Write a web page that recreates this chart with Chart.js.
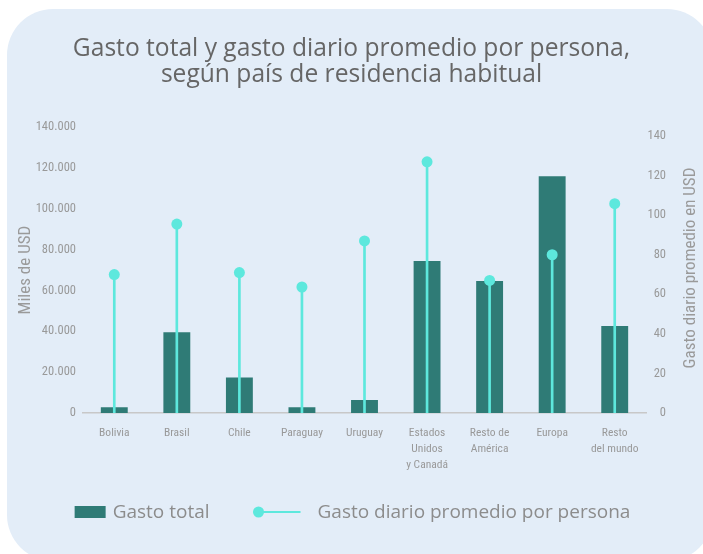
<!DOCTYPE html>
<html><head><meta charset="utf-8">
<script src="https://cdn.jsdelivr.net/npm/chart.js@4.4.0/dist/chart.umd.min.js"></script>
<style>
html,body{margin:0;padding:0;background:#fff;width:703px;height:554px;overflow:hidden}
#card{position:absolute;left:7px;top:9px;width:706px;height:552px;border-radius:46px;background:#e3edf8}
#wrap{position:absolute;left:0;top:0;width:703px;height:554px}
</style></head><body>
<div id="card"></div>
<div id="wrap"><canvas id="c" width="703" height="554"></canvas></div>
<script>
const categories = ["Bolivia", "Brasil", "Chile", "Paraguay", "Uruguay", ["Estados", "Unidos", "y Canadá"], ["Resto de", "América"], "Europa", ["Resto", "del mundo"]];
const gastoTotal = [2800, 39500, 17400, 2800, 6400, 74400, 64600, 116000, 42600];
const gastoDiario = [70, 95.5, 71, 63.7, 87, 127, 67, 80, 105.8];
const leftTicks = [0, 20000, 40000, 60000, 80000, 100000, 120000, 140000];
const rightTicks = [0, 20, 40, 60, 80, 100, 120, 140];
const titleLines = ["Gasto total y gasto diario promedio por persona,", "según país de residencia habitual"];
const leftTitle = "Miles de USD";
const rightTitle = "Gasto diario promedio en USD";
const seriesBar = "Gasto total";
const seriesDot = "Gasto diario promedio por persona";

const BAR = '#2f7b76', DOT = '#5de8dd';
const NARROW = "'Roboto Condensed','Roboto',sans-serif";
const ROUND = "'Open Sans','Noto Sans',sans-serif";
const fmt = v => String(v).replace(/\B(?=(\d{3})+(?!\d))/g, '.');

const extras = {
  id: 'extras',
  afterDraw(chart) {
    const ctx = chart.ctx;
    const s2 = chart.scales.y2, s1 = chart.scales.y1;
    ctx.save();
    ctx.fillStyle = '#9a9a9a';
    ctx.font = '17px ' + NARROW;
    ctx.textAlign = 'center'; ctx.textBaseline = 'middle';
    ctx.translate((s2.left + s2.right) / 2 + 6, (s1.top + s1.bottom) / 2 - 2);
    ctx.rotate(-Math.PI / 2);
    ctx.fillText(rightTitle, 0, 0);
    ctx.restore();
    // legend
    ctx.save();
    ctx.font = '19px ' + ROUND;
    ctx.textBaseline = 'middle'; ctx.textAlign = 'left';
    const w1 = ctx.measureText(seriesBar).width, w2 = ctx.measureText(seriesDot).width;
    const total = 31 + 7 + w1 + 44 + 47 + 17 + w2;
    let x = chart.width / 2 + 1 - total / 2;
    const y = 512;
    ctx.fillStyle = BAR; ctx.fillRect(x, y - 6, 31, 12);
    x += 38;
    ctx.fillStyle = '#8c8c8c'; ctx.fillText(seriesBar, x, y + 1);
    x += w1 + 44;
    ctx.strokeStyle = DOT; ctx.lineWidth = 2;
    ctx.beginPath(); ctx.moveTo(x, y); ctx.lineTo(x + 47, y); ctx.stroke();
    ctx.fillStyle = DOT; ctx.beginPath(); ctx.arc(x + 5, y, 5.5, 0, Math.PI * 2); ctx.fill();
    x += 64;
    ctx.fillStyle = '#8c8c8c'; ctx.fillText(seriesDot, x, y + 1);
    ctx.restore();
  }
};

new Chart(document.getElementById('c'), {
  type: 'bar',
  data: {
    labels: categories,
    datasets: [
      { type: 'bar', label: seriesBar, data: gastoTotal, backgroundColor: BAR, yAxisID: 'y', grouped: false, barPercentage: 0.43, categoryPercentage: 1, order: 3 },
      { type: 'bar', label: 'stem', data: gastoDiario, backgroundColor: DOT, yAxisID: 'y1', grouped: false, barThickness: 2, order: 2 },
      { type: 'line', label: seriesDot, data: gastoDiario, showLine: false, pointRadius: 5.5, pointHoverRadius: 5.5, pointBackgroundColor: DOT, pointBorderWidth: 0, borderColor: DOT, yAxisID: 'y1', order: 1 }
    ]
  },
  options: {
    responsive: false,
    animation: false,
    devicePixelRatio: 1,
    layout: { padding: { left: 0, right: 0, top: 0, bottom: 81 } },
    plugins: {
      legend: { display: false },
      tooltip: { enabled: false },
      title: { display: true, text: titleLines, color: '#666', font: { family: ROUND, size: 24.6, weight: 'normal', lineHeight: 1.06 }, padding: { top: 36, bottom: 39 } }
    },
    scales: {
      x: {
        grid: { display: false, drawTicks: false },
        border: { display: true, color: '#c8c8c8', width: 1.5 },
        ticks: { color: '#999', font: { family: NARROW, size: 11.5, lineHeight: 1.4 }, padding: 12, maxRotation: 0, autoSkip: false },
        afterFit: s => { s.height = 60; }
      },
      y: {
        position: 'left', min: 0, max: 140000,
        afterBuildTicks: s => { s.ticks = leftTicks.map(v => ({ value: v })); },
        grid: { display: false, drawTicks: false }, border: { display: false },
        ticks: { color: '#999', font: { family: NARROW, size: 12.5 }, padding: 7, callback: v => fmt(v) },
        title: { display: true, text: leftTitle, color: '#9a9a9a', font: { family: NARROW, size: 17 }, padding: { top: 16, bottom: 0 } },
        afterFit: s => { s.width = 83; }
      },
      y1: {
        position: 'right', min: 0, max: 144.5,
        afterBuildTicks: s => { s.ticks = rightTicks.map(v => ({ value: v })); },
        grid: { display: false, drawTicks: false }, border: { display: false },
        ticks: { color: '#999', font: { family: NARROW, size: 12.5 }, crossAlign: 'far' },
        afterFit: s => { s.width = 20; }
      },
      y2: {
        position: 'right', weight: 1, display: true, min: 0, max: 1,
        grid: { display: false }, border: { display: false },
        ticks: { display: false },
        afterFit: s => { s.width = 37; }
      }
    }
  },
  plugins: [extras]
});
</script>
</body></html>
